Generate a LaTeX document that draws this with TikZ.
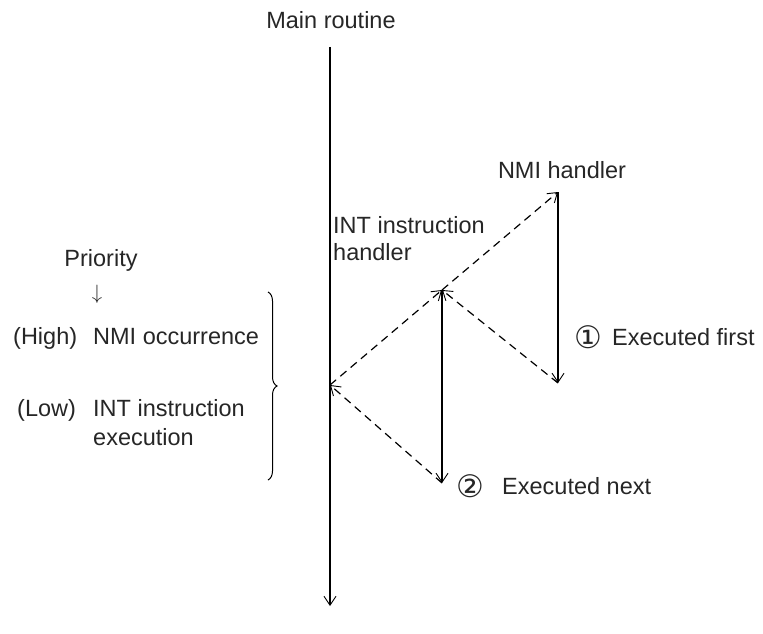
\documentclass[tikz,border=0pt]{standalone}
\usepackage{fontspec}
\setmainfont{Liberation Sans}
\newfontfamily\symfont{DejaVu Sans}
\usetikzlibrary{arrows.meta,decorations.pathreplacing}
\begin{document}
\begin{tikzpicture}[x=1pt,y=-1pt,
  lbl/.style={inner sep=0pt,font=\fontsize{23.5}{28}\selectfont,text=black!85},
  num/.style={inner sep=0pt,font=\symfont\fontsize{31}{34}\selectfont,text=black!85},
  flow/.style={line width=1.2pt,-{Straight Barb[length=9pt,width=12pt,line width=0.9pt]}},
  jump/.style={flow,dash pattern=on 8pt off 5.5pt},
  bracestyle/.style={line width=1pt,decorate,decoration={brace,amplitude=9pt}}]
\useasboundingbox (0,0) rectangle (763,634);
% points
\coordinate (mtop) at (330,47);
\coordinate (mbot) at (330,606);
\coordinate (m1) at (330,385);
\coordinate (a) at (442,290);
\coordinate (a2) at (442,483);
\coordinate (b) at (558,192);
\coordinate (b2) at (558,383);
\coordinate (brt) at (268,292);
\coordinate (brb) at (268,480);
% connectors
\draw[flow] (mtop) -- (mbot);
\draw[jump] (m1) -- (a);
\draw[jump] (a) -- (b);
\draw[flow] (b) -- (b2);
\draw[jump] (b2) -- (a);
\draw[flow] (a) -- (a2);
\draw[jump] (a2) -- (m1);
\draw[bracestyle] (brt) -- (brb);
% labels
\node[lbl,anchor=base] (main) at (331,28.5) {Main routine};
\node[lbl,anchor=base] (nmih) at (562,178.5) {NMI handler};
\node[lbl,anchor=base west] (inth1) at (333,233.5) {INT instruction};
\node[lbl,anchor=base west] (inth2) at (333,260.5) {handler};
\node[lbl,anchor=base] (prio) at (101,266.5) {Priority};
\node[inner sep=0pt,font=\fontsize{20}{22}\selectfont,text=black!85] (down) at (97,294) {$\downarrow$};
\node[lbl,anchor=base west] (high) at (13,344.5) {(High)};
\node[lbl,anchor=base west] (nmio) at (93,344.5) {NMI occurrence};
\node[lbl,anchor=base west] (low) at (17,416.5) {(Low)};
\node[lbl,anchor=base west] (inte1) at (93,416.5) {INT instruction};
\node[lbl,anchor=base west] (inte2) at (93,445) {execution};
\node[num] (n1) at (588,337) {①};
\node[lbl,anchor=base west] (ef) at (612,345.5) {Executed first};
\node[num] (n2) at (470,486) {②};
\node[lbl,anchor=base west] (en) at (502,494.5) {Executed next};
\end{tikzpicture}
\end{document}
